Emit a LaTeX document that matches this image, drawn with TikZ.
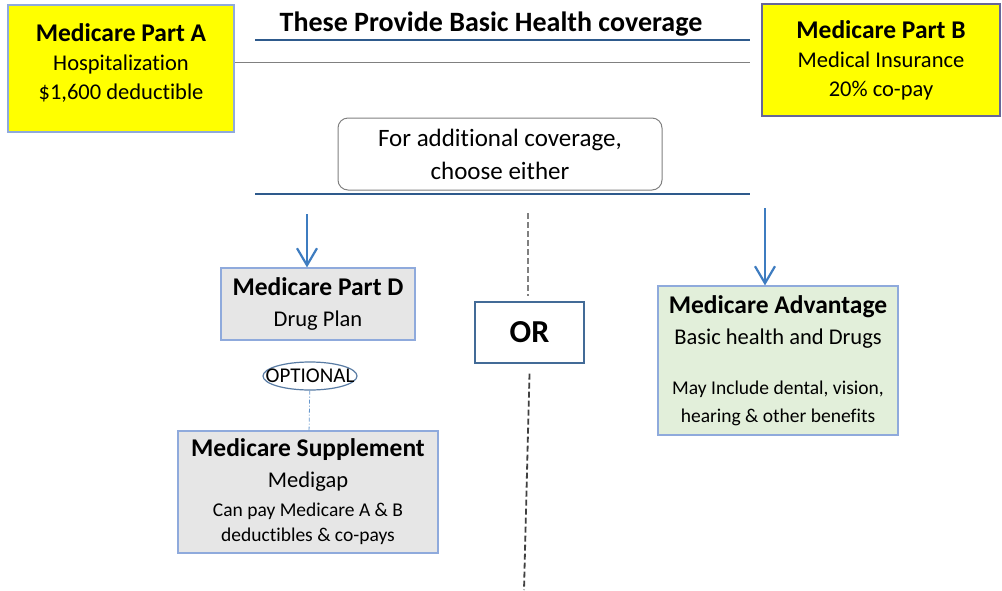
\documentclass[tikz,border=0pt]{standalone}
\usepackage{fontspec}
\setmainfont[Ligatures=NoCommon]{Carlito}
\usepackage{tikz}
\usetikzlibrary{arrows.meta,shapes.geometric,positioning}

\definecolor{partyellow}{HTML}{FFFF00}
\definecolor{boxgrey}{HTML}{E6E6E6}
\definecolor{boxgreen}{HTML}{E2EFDA}
\definecolor{edgeblue}{HTML}{8FAADC}
\definecolor{linkblue}{HTML}{3E7CC0}
\definecolor{rulenavy}{HTML}{2E5A8C}

\begin{document}
\begin{tikzpicture}[x=1pt, y=-1pt,
	part/.style={draw=edgeblue, line width=1.2pt, fill=partyellow, align=center, inner sep=0pt,
		font=\fontsize{22.5}{29}\selectfont},
	plan/.style={draw=edgeblue, line width=1.2pt, fill=boxgrey, align=center, inner sep=0pt,
		font=\fontsize{22.5}{31}\selectfont},
	pick/.style={-{Straight Barb[length=17pt,width=20pt]}, linkblue, line width=2.2pt},
	sep/.style={dashed, dash pattern=on 6pt off 3pt, line width=1.8pt}]
	\useasboundingbox (0,0) rectangle (1002,590);

	% basic coverage
	\node (parta) [part, minimum width=226, minimum height=127, text depth=13pt] at (121,68.5)
		{\textbf{\fontsize{25.5}{29}\selectfont Medicare Part A}\\Hospitalization\\\$1,600 deductible};
	\node (partb) [part, draw=gray!80!blue, minimum width=238, minimum height=112] at (881,60)
		{\textbf{\fontsize{25.5}{29}\selectfont Medicare Part B}\\Medical Insurance\\20\% co-pay};
	\node (title) at (491,24) {\fontsize{28}{30}\selectfont\bfseries These Provide Basic Health coverage};
	\draw [rulenavy, line width=2.5pt] (255,40) -- (750,40);
	\coordinate (ab) at (750,62);
	\draw [gray, line width=1pt] (parta.east |- ab) -- (ab);

	% choice
	\node (choose) [draw=gray, line width=1pt, rounded corners=10pt, minimum width=324, minimum height=72,
		align=center, font=\fontsize{25}{33}\selectfont] at (500,154) {For additional coverage,\\choose either};
	\draw [rulenavy, line width=2.5pt] (255,194) -- (750,194);

	\node (partd) [plan, minimum width=194, minimum height=72] at (318,304)
		{\textbf{\fontsize{25.5}{30}\selectfont Medicare Part D}\\Drug Plan};
	\node (opt) [draw=rulenavy!80, line width=1.2pt, ellipse, minimum width=94, minimum height=28, inner sep=0pt,
		font=\fontsize{21}{22}\selectfont] at (310,376) {\makebox[0pt]{OPTIONAL}};
	\node (supp) [plan, minimum width=260, minimum height=122] at (308,492)
		{\textbf{\fontsize{25.5}{31}\selectfont Medicare Supplement}\\Medigap\\[-2pt]
		{\fontsize{19.5}{23}\selectfont Can pay Medicare A \& B}\\[-6pt]
		{\fontsize{19.5}{23}\selectfont deductibles \& co-pays}};
	\draw [linkblue!80, line width=0.8pt, dash pattern=on 4pt off 2pt on 1pt off 2pt] (opt) -- (supp);

	\node (or) [draw=rulenavy!90, line width=1.3pt, minimum width=109, minimum height=61,
		font=\fontsize{32}{34}\selectfont\bfseries] at (529.5,332.5) {OR};
	\coordinate (sepa) at (528,213);
	\coordinate (sepb) at (524,590);
	\draw [sep, gray] (sepa) -- ([yshift=5pt]or.north -| sepa);
	\draw [sep, black!75] ([yshift=-10pt]or.south) -- (sepb);

	\node (adv) [plan, fill=boxgreen, minimum width=240, minimum height=149] at (778,360.5)
		{\textbf{\fontsize{25.5}{31}\selectfont Medicare Advantage}\\Basic health and Drugs\\[19pt]
		{\fontsize{19.5}{23}\selectfont May Include dental, vision,}\\[-3pt]
		{\fontsize{19.5}{23}\selectfont hearing \& other benefits}};

	\coordinate (pd) at (307,214);
	\coordinate (pa) at (765,208);
	\draw [pick] (pd) -- (pd |- partd.north);
	\draw [pick] (pa) -- (pa |- adv.north);
\end{tikzpicture}
\end{document}
